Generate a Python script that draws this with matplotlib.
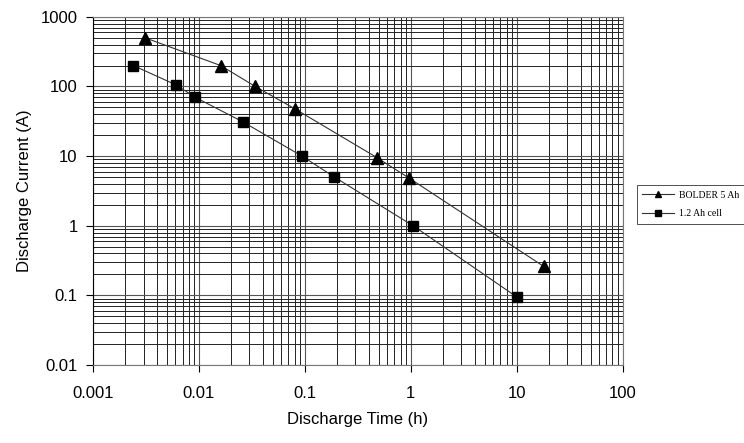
import matplotlib.pyplot as plt
from matplotlib.ticker import LogLocator, NullFormatter, FixedLocator, FixedFormatter

# BOLDER 5 Ah cell
bolder_time = [0.0031, 0.016, 0.034, 0.08, 0.48, 0.97, 18]
bolder_current = [500, 200, 100, 48, 9.5, 4.8, 0.26]

# 1.2 Ah cell
cell_time = [0.0024, 0.0061, 0.0092, 0.026, 0.094, 0.19, 1.05, 10]
cell_current = [200, 105, 70, 31, 10, 5, 1, 0.095]

x_ticks = [0.001, 0.01, 0.1, 1, 10, 100]
x_labels = ["0.001", "0.01", "0.1", "1", "10", "100"]
y_ticks = [0.01, 0.1, 1, 10, 100, 1000]
y_labels = ["0.01", "0.1", "1", "10", "100", "1000"]

fig = plt.figure(figsize=(7.44, 4.43), dpi=100)
ax = fig.add_axes([0.125, 0.176, 0.712, 0.786])

ax.set_xscale("log")
ax.set_yscale("log")
ax.set_xlim(0.001, 100)
ax.set_ylim(0.01, 1000)

ax.plot(bolder_time, bolder_current, color="#333333", lw=0.8, marker="^",
        ms=8, mfc="black", mec="black", label="BOLDER 5 Ah", zorder=3)
ax.plot(cell_time, cell_current, color="#333333", lw=0.8, marker="s",
        ms=7, mfc="black", mec="black", label="1.2 Ah cell", zorder=3)

ax.xaxis.set_major_locator(FixedLocator(x_ticks))
ax.xaxis.set_major_formatter(FixedFormatter(x_labels))
ax.yaxis.set_major_locator(FixedLocator(y_ticks))
ax.yaxis.set_major_formatter(FixedFormatter(y_labels))
ax.xaxis.set_minor_locator(LogLocator(base=10, subs=range(2, 10)))
ax.yaxis.set_minor_locator(LogLocator(base=10, subs=range(2, 10)))
ax.xaxis.set_minor_formatter(NullFormatter())
ax.yaxis.set_minor_formatter(NullFormatter())

ax.grid(which="major", color="#555555", lw=0.8)
ax.grid(which="minor", color="#222222", lw=0.7)
ax.tick_params(which="major", direction="out", length=5, width=0.8,
               labelsize=12, pad=6)
ax.tick_params(which="minor", length=0)
for lab in ax.get_xticklabels() + ax.get_yticklabels():
    lab.set_family("Liberation Sans")
ax.tick_params(axis="x", pad=10)
for s in ax.spines.values():
    s.set_linewidth(0.8)
    s.set_color("#777777")
ax.spines["left"].set_color("black")

ax.set_xlabel("Discharge Time (h)", fontsize=12, family="Liberation Sans",
              labelpad=8)
ax.set_ylabel("Discharge Current (A)", fontsize=12, family="Liberation Sans",
              labelpad=6)

leg = fig.legend(loc="upper left", bbox_to_anchor=(0.853, 0.587),
                 prop={"family": "Liberation Serif", "size": 7},
                 frameon=True, fancybox=False, edgecolor="black",
                 markerscale=0.55, handlelength=3.3, handletextpad=0.5,
                 borderpad=0.6, borderaxespad=0.2, labelspacing=1.0)
leg.get_frame().set_linewidth(0.6)

fig.savefig("out.png", dpi=100)
